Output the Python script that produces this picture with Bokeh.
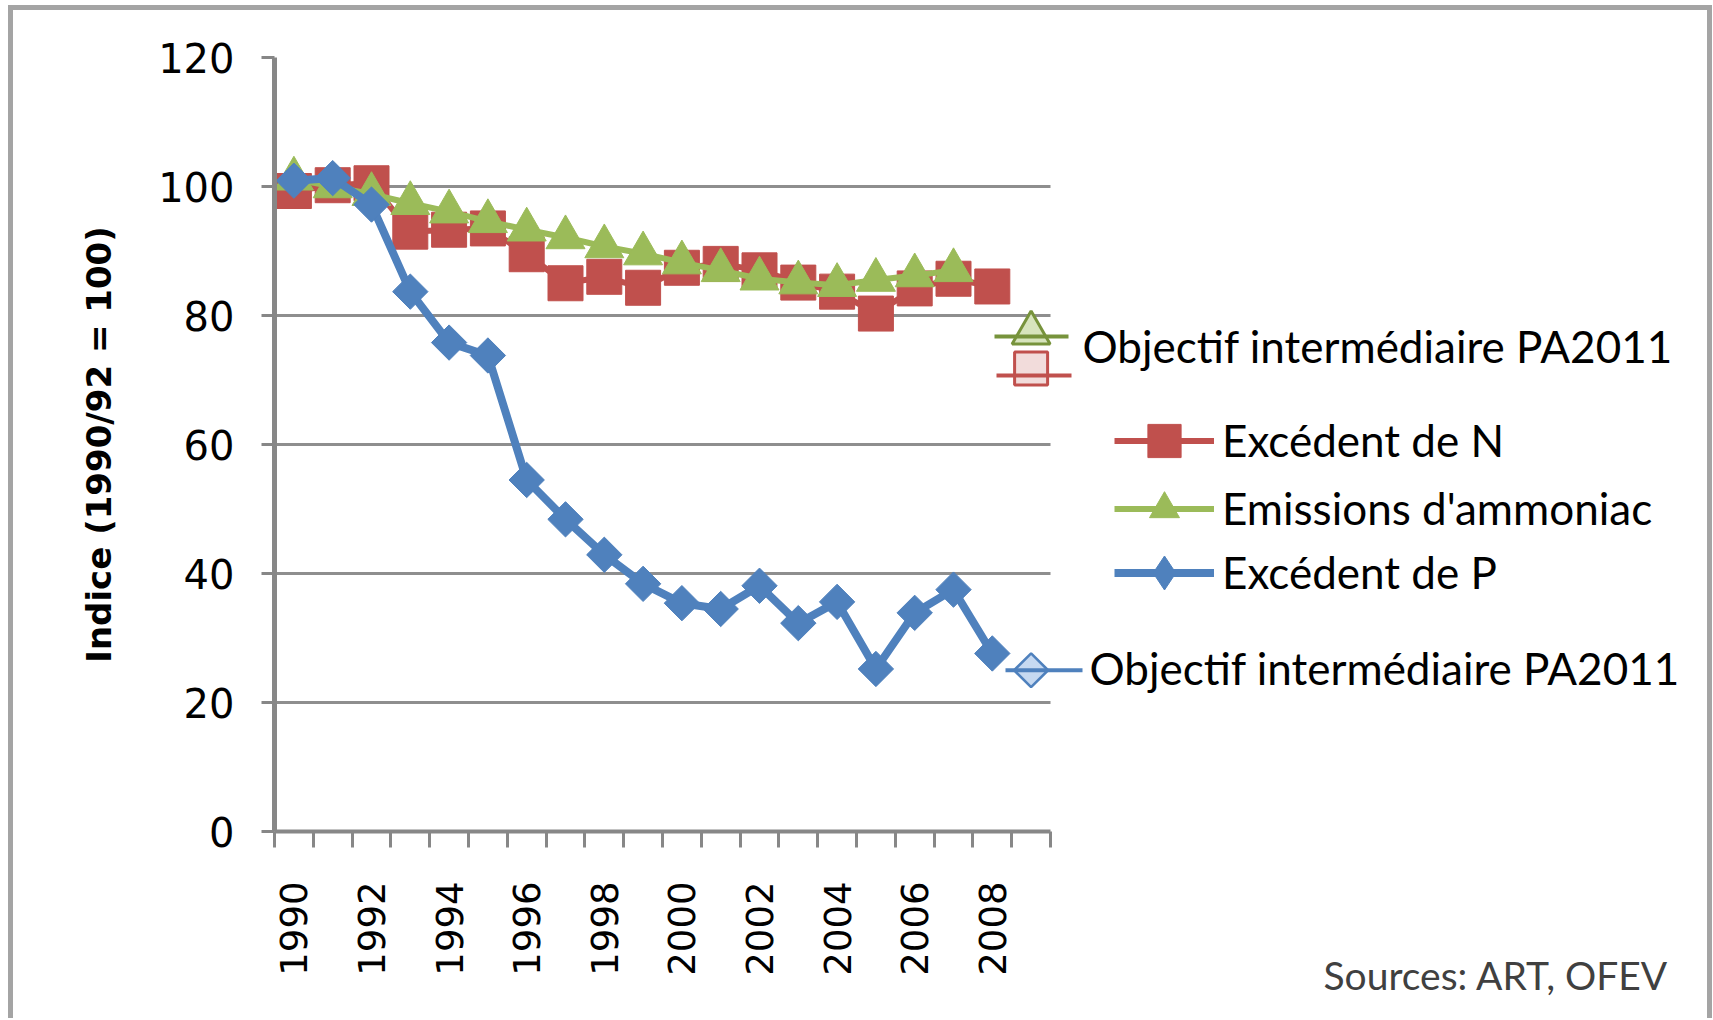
from math import pi
from bokeh.plotting import figure
from bokeh.models import Range1d, FixedTicker, Legend, LegendItem, Label, Arrow, Title, Grid
from bokeh.embed import file_html
from bokeh.resources import INLINE

# ---------------- data ----------------
years = [1990, 1991, 1992, 1993, 1994, 1995, 1996, 1997, 1998, 1999,
         2000, 2001, 2002, 2003, 2004, 2005, 2006, 2007, 2008]
n_surplus = [99.3, 100.2, 100.5, 93.0, 93.3, 93.5, 89.5, 85.0, 86.0, 84.3,
             87.4, 88.0, 87.0, 85.1, 83.7, 80.3, 84.2, 85.7, 84.5]
nh3_years = [1990, 1991, 1992, 1993, 1994, 1995, 1996, 1997, 1998, 1999,
             2000, 2001, 2002, 2003, 2004, 2005, 2006, 2007]
nh3_emissions = [101.2, 100.0, 98.8, 97.4, 96.1, 94.6, 93.3, 92.1, 90.7, 89.6,
                 88.2, 87.0, 85.7, 85.1, 84.7, 85.5, 86.2, 87.0]
p_surplus = [100.9, 101.3, 97.2, 83.7, 75.8, 73.8, 54.5, 48.4, 42.9, 38.4,
             35.4, 34.5, 38.1, 32.3, 35.6, 25.2, 33.9, 37.5, 27.6]
target_year = [2009]
target_n = [71.8]
target_nh3 = [77.3]
target_p = [25.0]
y_ticks = [0, 20, 40, 60, 80, 100, 120]
x_label_years = [1990, 1992, 1994, 1996, 1998, 2000, 2002, 2004, 2006, 2008]
category_edges = [1989.5 + i for i in range(21)]

label_n = "Excédent de N"
label_nh3 = "Emissions d'ammoniac"
label_p = "Excédent de P"
label_target = "Objectif intermédiaire PA2011"
y_title = "Indice (1990/92 = 100)"
source_text = "Sources: ART, OFEV"

# ---------------- styles / layout ----------------
RED = "#C0504D"
GREEN = "#9BBB59"
BLUE = "#4F81BD"
GRAY = "#878787"
TXT_FONT = "Lato"
TXT_SIZE = "44px"
TICK_FONT = "DejaVu Sans"

OFF_X, OFF_Y = 13, 10            # page offset of the canvas (margin + border)
CANVAS_W, CANVAS_H = 1694, 1008
FRAME_L, FRAME_T = 261, 47
PX_PER_YEAR = 38.8               # category width in px
PX_PER_UNIT = 6.45               # px per index unit
X0, X1 = 1989.5, 2009.5          # category axis extent
Y0, Y1 = 0, 120
FRAME_H = int(round((Y1 - Y0) * PX_PER_UNIT))
FRAME_W = CANVAS_W - FRAME_L - 10
X_END = X0 + FRAME_W / PX_PER_YEAR   # frame extends right to hold the annotations

def dx(px):
    return X0 + (px - OFF_X - FRAME_L) / PX_PER_YEAR
def dy(py):
    return Y0 + (FRAME_T + FRAME_H - (py - OFF_Y)) / PX_PER_UNIT

p = figure(
    x_range=Range1d(X0, X_END), y_range=Range1d(Y0, Y1),
    frame_width=FRAME_W, frame_height=FRAME_H,
    min_border_left=FRAME_L, min_border_right=CANVAS_W - FRAME_L - FRAME_W,
    min_border_top=FRAME_T, min_border_bottom=CANVAS_H - FRAME_T - FRAME_H,
    output_backend="svg", toolbar_location=None,
    background_fill_color="white", border_fill_color="white",
)
p.styles = {
    "margin-left": "8px",
    "margin-top": "5px",
    "border-left": "5px solid #a4a4a4",
    "border-top": "5px solid #a4a4a4",
    "border-right": "5px solid #a4a4a4",
}
p.outline_line_color = None

# axes
p.xaxis.bounds = (X0, X1)
p.xaxis.ticker = FixedTicker(ticks=x_label_years, minor_ticks=category_edges)
p.xaxis.major_tick_out = 0
p.xaxis.major_tick_in = 0
p.xaxis.minor_tick_out = 16
p.xaxis.minor_tick_in = 0
p.xaxis.minor_tick_line_width = 3
p.xaxis.minor_tick_line_color = GRAY
p.xaxis.axis_line_width = 4
p.xaxis.axis_line_color = GRAY
p.xaxis.major_label_orientation = pi / 2
p.xaxis.major_label_standoff = 34
p.xaxis.major_label_text_font = TICK_FONT
p.xaxis.major_label_text_font_size = "37px"
p.xaxis.major_label_text_color = "black"

p.yaxis.ticker = FixedTicker(ticks=y_ticks, minor_ticks=[])
p.yaxis.major_tick_out = 13
p.yaxis.major_tick_in = 0
p.yaxis.major_tick_line_width = 3
p.yaxis.major_tick_line_color = GRAY
p.yaxis.axis_line_width = 5
p.yaxis.axis_line_color = GRAY
p.yaxis.major_label_standoff = 27
p.yaxis.major_label_text_font = TICK_FONT
p.yaxis.major_label_text_font_size = "40px"
p.yaxis.major_label_text_color = "black"
p.yaxis.axis_label = y_title
p.yaxis.axis_label_text_font = TICK_FONT
p.yaxis.axis_label_text_font_style = "bold"
p.yaxis.axis_label_text_font_size = "34px"
p.yaxis.axis_label_text_color = "black"
p.yaxis.axis_label_standoff = 36

p.xgrid.visible = False
grid = p.ygrid[0]
if "cross_bounds" in Grid.properties():
    grid.ticker = FixedTicker(ticks=y_ticks)
    grid.cross_bounds = (X0, X1)
    grid.grid_line_color = "#8E8E8E"
    grid.grid_line_width = 3
else:
    grid.visible = False
    p.segment(x0=[X0] * len(y_ticks), x1=[X1] * len(y_ticks), y0=y_ticks, y1=y_ticks,
              line_color="#8E8E8E", line_width=3)

# series
rN_l = p.line(years, n_surplus, line_color=RED, line_width=6, line_join="round")
rN_m = p.scatter(years, n_surplus, marker="square", size=35, fill_color=RED, line_color=RED)
rA_l = p.line(nh3_years, nh3_emissions, line_color=GREEN, line_width=6, line_join="round")
rA_m = p.scatter(nh3_years, nh3_emissions, marker="triangle", size=39, fill_color=GREEN, line_color=GREEN)
rP_l = p.line(years, p_surplus, line_color=BLUE, line_width=8, line_join="round")
rP_m = p.scatter(years, p_surplus, marker="square", angle=pi / 4, size=25, fill_color=BLUE, line_color=BLUE)
# legend-only diamond key (a single NaN point: never drawn on the chart)
nan = float("nan")
rP_key = p.scatter(x=[nan], y=[nan], marker="diamond", fill_color=BLUE, line_color=BLUE)

# targets
p.scatter(target_year, target_n, marker="square", size=33, fill_color="#F2DCDB", line_color=RED, line_width=3)
p.scatter(target_year, target_nh3, marker="triangle", size=38, fill_color="#D7E4BD", line_color="#77933C", line_width=3)
p.scatter(target_year, target_p, marker="square", angle=pi / 4, size=24, fill_color="#C6D9F1", line_color=BLUE, line_width=2.5)

# data-label keys for targets
p.add_layout(Arrow(end=None, x_start=dx(994), x_end=dx(1068), y_start=dy(336), y_end=dy(336),
                   line_color="#77933C", line_width=4))
p.add_layout(Arrow(end=None, x_start=dx(996), x_end=dx(1071), y_start=dy(375), y_end=dy(375),
                   line_color=RED, line_width=4))
p.add_layout(Arrow(end=None, x_start=dx(1005), x_end=dx(1082), y_start=target_p[0], y_end=target_p[0],
                   line_color=BLUE, line_width=4))
p.add_layout(Label(x=dx(1082), y=dy(345), text=label_target, text_font=TXT_FONT,
                   text_font_size=TXT_SIZE, text_baseline="middle", text_align="left", text_color="black"))
p.add_layout(Label(x=dx(1089), y=dy(667), text=label_target, text_font=TXT_FONT,
                   text_font_size=TXT_SIZE, text_baseline="middle", text_align="left", text_color="black"))

# source note below the axis labels
src = Title(text=source_text, align="right", vertical_align="top",
            offset=(OFF_X + FRAME_L + FRAME_W - 1668), standoff=-54,
            text_font="Lato", text_font_size="39px", text_font_style="normal",
            text_color="#404040")
p.add_layout(src, "below")

# legends (one per entry so each marker gets its own key size)
def add_legend(label, renderers, center_page_y, H):
    c = center_page_y - OFF_Y
    vy = (FRAME_T + FRAME_H) - (c + H / 2)
    vx = (1114 - OFF_X) - FRAME_L
    lg = Legend(items=[LegendItem(label=label, renderers=renderers)], location=(vx, vy),
                glyph_width=100, glyph_height=H, label_height=H, label_standoff=8,
                padding=0, margin=0, spacing=0, border_line_color=None,
                background_fill_alpha=0, label_text_font=TXT_FONT,
                label_text_font_size=TXT_SIZE, label_text_color="black")
    p.add_layout(lg)

add_legend(label_n, [rN_l, rN_m], 440, 83)
add_legend(label_nh3, [rA_l, rA_m], 508, 75)
add_legend(label_p, [rP_l, rP_key], 572, 85)

open("out.html", "w").write(file_html(p, INLINE))
